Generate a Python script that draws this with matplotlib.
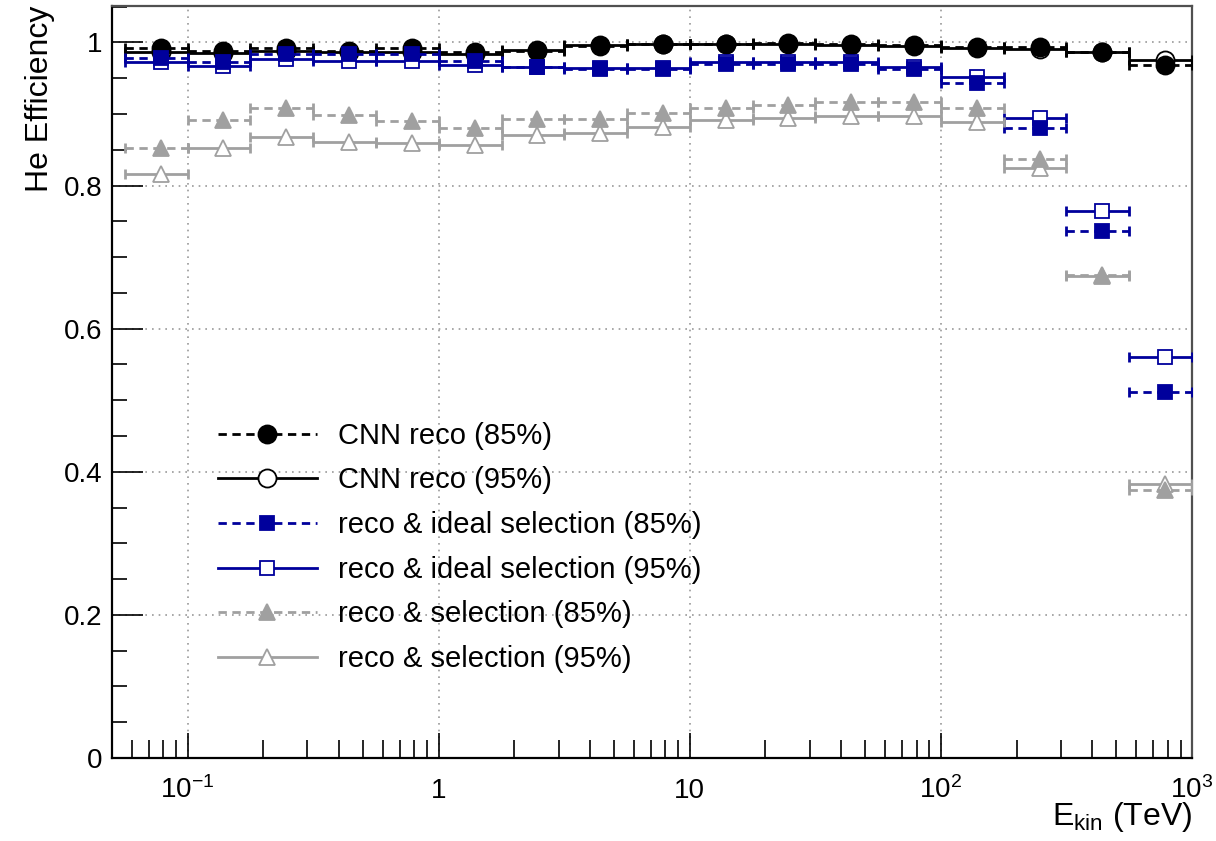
import numpy as np
import matplotlib.pyplot as plt
from matplotlib.lines import Line2D
from matplotlib.ticker import MultipleLocator, LogLocator, NullFormatter, FuncFormatter

plt.rcParams['font.family'] = ['Liberation Sans', 'DejaVu Sans']
plt.rcParams['mathtext.fontset'] = 'custom'
plt.rcParams['mathtext.rm'] = 'Liberation Sans'
plt.rcParams['mathtext.it'] = 'Liberation Sans:italic'

# ==========================================================
# DATA  (4 log bins per decade, 0.056 - 1000 TeV)
# ==========================================================

bin_edges = [0.0562, 0.1, 0.178, 0.316, 0.562, 1.0, 1.78, 3.16, 5.62,
             10.0, 17.8, 31.6, 56.2, 100.0, 178.0, 316.0, 562.0, 1000.0]

cnn_85 = [0.992, 0.988, 0.992, 0.988, 0.992, 0.987, 0.988, 0.995, 0.998,
          0.998, 0.999, 0.998, 0.996, 0.993, 0.993, 0.987, 0.968]
cnn_95 = [0.986, 0.985, 0.988, 0.987, 0.987, 0.984, 0.990, 0.997, 0.998,
          0.998, 0.998, 0.997, 0.995, 0.992, 0.991, 0.986, 0.976]
ideal_85 = [0.978, 0.972, 0.984, 0.984, 0.984, 0.974, 0.966, 0.963, 0.963,
            0.970, 0.970, 0.970, 0.963, 0.944, 0.881, 0.737, 0.512]
ideal_95 = [0.973, 0.967, 0.977, 0.974, 0.974, 0.968, 0.966, 0.964, 0.964,
            0.972, 0.972, 0.973, 0.966, 0.952, 0.894, 0.765, 0.561]
sel_85 = [0.852, 0.892, 0.909, 0.898, 0.890, 0.881, 0.893, 0.893, 0.902,
          0.909, 0.913, 0.917, 0.917, 0.909, 0.837, 0.675, 0.375]
sel_95 = [0.816, 0.853, 0.868, 0.861, 0.859, 0.857, 0.870, 0.873, 0.882,
          0.891, 0.894, 0.897, 0.897, 0.889, 0.824, 0.673, 0.383]

labels = ["CNN reco (85%)", "CNN reco (95%)",
          "reco & ideal selection (85%)", "reco & ideal selection (95%)",
          "reco & selection (85%)", "reco & selection (95%)"]

x_ticks = [0.1, 1, 10, 100, 1000]
x_ticklabels = [r"$10^{-1}$", "1", "10", r"$10^{2}$", r"$10^{3}$"]

# ==========================================================
# STYLE
# ==========================================================

BLUE = "#00009c"
GRAY = "#a0a0a0"
DASH = (0, (3, 2))

edges = np.array(bin_edges)
lo = edges[:-1]
hi = edges[1:]
centers = 0.5 * (lo + hi)
xerr = [centers - lo, hi - centers]

series = [
    # values, color, linestyle, marker, ms, filled, zorder
    (cnn_95, "black", "-", "o", 13, False, 3),
    (cnn_85, "black", DASH, "o", 13, True, 4),
    (ideal_95, BLUE, "-", "s", 9.5, False, 5),
    (ideal_85, BLUE, DASH, "s", 9.5, True, 6),
    (sel_95, GRAY, "-", "^", 11, False, 7),
    (sel_85, GRAY, DASH, "^", 11, True, 8),
]

fig = plt.figure(figsize=(12.16, 8.41), dpi=100)
ax = fig.add_axes([0.0921, 0.0987, 0.8882, 0.8942])

for vals, col, ls, mk, ms, filled, z in series:
    eb = ax.errorbar(centers, vals, xerr=xerr, fmt="none", ecolor=col,
                     elinewidth=2.0, capsize=3.5, capthick=2.0, zorder=z)
    eb[2][0].set_linestyle(ls)
    ax.plot(centers, vals, linestyle="none", marker=mk, markersize=ms,
            color=col, markerfacecolor=col if filled else "white",
            markeredgecolor=col, markeredgewidth=1.3, zorder=z + 0.5)

# ==========================================================
# AXES
# ==========================================================

ax.set_xscale("log")
ax.set_xlim(0.05, 1000)
ax.set_ylim(0, 1.051)

ax.set_xticks(x_ticks, labels=x_ticklabels)
ax.xaxis.set_minor_locator(LogLocator(base=10, subs=np.arange(2, 10)))
ax.xaxis.set_minor_formatter(NullFormatter())

ax.yaxis.set_major_locator(MultipleLocator(0.2))
ax.yaxis.set_minor_locator(MultipleLocator(0.05))
ax.yaxis.set_major_formatter(FuncFormatter(lambda v, p: "%g" % round(v, 2)))

ax.tick_params(axis="both", which="both", direction="in", top=False,
               right=False, width=1.2, labelsize=20)
ax.tick_params(axis="y", which="major", length=22, pad=7)
ax.tick_params(axis="y", which="minor", length=11)
ax.tick_params(axis="x", which="major", length=18, pad=29)
ax.tick_params(axis="x", which="minor", length=13)
for t in ax.get_xticklabels():
    t.set_verticalalignment("baseline")

ax.grid(True, which="major", color="#999999", linestyle=(0, (1, 3)),
        linewidth=1.2)

for side in ["left", "bottom"]:
    ax.spines[side].set_linewidth(1.6)
    ax.spines[side].set_color("black")
for side in ["top", "right"]:
    ax.spines[side].set_linewidth(1.6)
    ax.spines[side].set_color("#505050")

ax.set_ylabel("He Efficiency", fontsize=23, loc="top")
ax.yaxis.set_label_coords(-0.053, 1.0)
ax.set_xlabel(r"E$_{\rm kin}$ (TeV)", fontsize=23, loc="right")
ax.xaxis.set_label_coords(1.0, -0.056)

# ==========================================================
# LEGEND
# ==========================================================

handles = []
for (vals, col, ls, mk, ms, filled, z), lab in zip(
        [series[1], series[0], series[3], series[2], series[5], series[4]],
        labels):
    handles.append(Line2D([], [], color=col, linestyle=ls, linewidth=2.0,
                          marker=mk, markersize=ms,
                          markerfacecolor=col if filled else "white",
                          markeredgecolor=col, markeredgewidth=1.3))

ax.legend(handles=handles, labels=labels, loc="upper left",
          bbox_to_anchor=(0.098, 0.447), frameon=False, fontsize=21,
          handlelength=3.4, handletextpad=0.72, labelspacing=0.57,
          borderpad=0, borderaxespad=0, numpoints=1)

fig.savefig("out.png", dpi=100)
